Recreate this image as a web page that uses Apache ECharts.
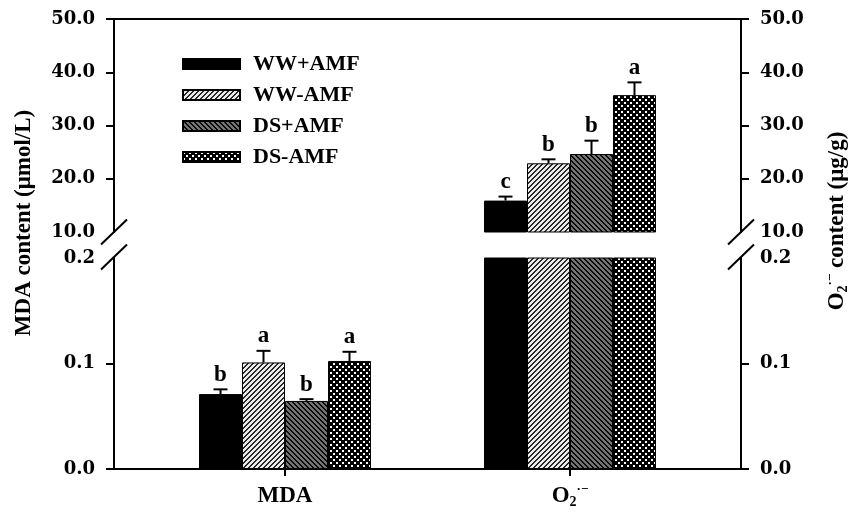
<!DOCTYPE html>
<html><head><meta charset="utf-8">
<script src="https://cdn.jsdelivr.net/npm/echarts@6/dist/echarts.min.js"></script>
<style>html,body{margin:0;padding:0;background:#fff}#c{width:850px;height:512px}</style>
</head><body><div id="c"></div>
<script>
// ---- data ----
const categories = ['MDA', 'O2'];
const categoryLabels = ['{m|MDA}', '{m|O}{s|2}{p|·−}'];
const treatments = ['WW+AMF', 'WW-AMF', 'DS+AMF', 'DS-AMF'];
const mdaValues = [0.071, 0.101, 0.0645, 0.1024];
const mdaErrors = [0.0045, 0.011, 0.0017, 0.0087];
const mdaLetters = ['b', 'a', 'b', 'a'];
const o2Values = [15.9, 22.9, 24.65, 35.7];
const o2Errors = [0.75, 0.75, 2.5, 2.4];
const o2Letters = ['c', 'b', 'b', 'a'];
const upperTickLabels = [10, 20, 30, 40, 50];
const lowerTickLabels = [0, 0.1, 0.2];

// ---- layout constants ----
const GL = 114, GW = 627;
const UT = 19, UH = 213;
const LT = 258, LH = 211;
const BAR_W = 43;
const catPos = categories.map((c, i) => i + 1);

// ---- patterns ----
function tile(n, fn) {
  const cv = document.createElement('canvas');
  cv.width = n; cv.height = n;
  const ctx = cv.getContext('2d');
  const img = ctx.createImageData(n, n);
  for (let y = 0; y < n; y++) for (let x = 0; x < n; x++) {
    const v = fn(x, y);
    const i = (y * n + x) * 4;
    img.data[i] = v; img.data[i + 1] = v; img.data[i + 2] = v; img.data[i + 3] = 255;
  }
  ctx.putImageData(img, 0, 0);
  return { image: cv, repeat: 'repeat' };
}
const patterns = [
  '#000',
  tile(5, (x, y) => ((x + y) % 5) < 2 ? 40 : 235),
  tile(5, (x, y) => (((x - y) % 5) + 5) % 5 < 2 ? 10 : 115),
  tile(6, (x, y) => ((x % 6 < 2 && y % 6 < 2) || ((x + 3) % 6 < 2 && (y + 3) % 6 < 2)) ? 255 : 0)
];

const font = '"Liberation Serif", "Times New Roman", serif';
const numFont = '"DejaVu Serif", serif';
const black = '#000';

function yAxis(grid, pos, min, max, interval, ticks) {
  return {
    type: 'value', gridIndex: grid, position: pos, min: min, max: max, interval: interval,
    axisLine: { show: true, lineStyle: { color: black, width: 2 } },
    axisTick: { show: true, inside: false, length: 8, customValues: ticks, lineStyle: { color: black, width: 2 } },
    axisLabel: { margin: 19, color: black, fontFamily: numFont, fontWeight: 'bold', fontSize: 18,
      formatter: v => v.toFixed(1) },
    splitLine: { show: false }
  };
}

const series = [];
const valuesByCat = [mdaValues, o2Values];
const errorsByCat = [mdaErrors, o2Errors];
const lettersByCat = [mdaLetters, o2Letters];
for (let g = 0; g < 2; g++) {
  treatments.forEach((t, k) => {
    series.push({
      type: 'bar', name: t, xAxisIndex: g, yAxisIndex: g,
      data: catPos.map((x, c) => [x, valuesByCat[c][k]]),
      barWidth: BAR_W, barGap: '0%', clip: true,
      itemStyle: { color: patterns[k], borderColor: black, borderWidth: 1 },
      emphasis: { disabled: true }, z: 2
    });
  });
}
const errInfo = [];
treatments.forEach((t, k) => {
  catPos.forEach((x, c) => {
    errInfo.push({ x: x, v: valuesByCat[c][k], e: errorsByCat[c][k], k: k, letter: lettersByCat[c][k] });
  });
});
for (let g = 0; g < 2; g++) {
  series.push({
    type: 'custom', name: 'err' + g, xAxisIndex: g, yAxisIndex: g, clip: true, z: 5,
    data: errInfo.map(d => [d.x, d.v + d.e]),
    renderItem: function (params, api) {
      const info = errInfo[params.dataIndex];
      const cs = params.coordSys;
      const base = api.coord([info.x, info.v]);
      const top = api.coord([info.x, info.v + info.e]);
      if (base[1] < cs.y - 0.5 || base[1] > cs.y + cs.height + 0.5) return null;
      const x = base[0] + (info.k - 1.5) * BAR_W;
      return {
        type: 'group', children: [
          { type: 'line', shape: { x1: x, y1: base[1], x2: x, y2: top[1] }, style: { stroke: black, lineWidth: 2 } },
          { type: 'line', shape: { x1: x - 7, y1: top[1], x2: x + 7, y2: top[1] }, style: { stroke: black, lineWidth: 2 } },
          { type: 'text', x: x, y: top[1] - 3, style: { text: info.letter, font: 'bold 23px ' + font, fill: black, align: 'center', verticalAlign: 'bottom' } }
        ]
      };
    }
  });
}

const slashes = [];
[GL, GL + GW].forEach(X => {
  [UT + UH, LT - 1].forEach(Y => {
    slashes.push({ type: 'line', z: 100, shape: { x1: X - 13, y1: Y + 12.5, x2: X + 13, y2: Y - 12.5 }, style: { stroke: black, lineWidth: 2 } });
  });
});

const option = {
  animation: false,
  backgroundColor: '#fff',
  grid: [
    { left: GL, width: GW, top: UT, height: UH },
    { left: GL, width: GW, top: LT, height: LH }
  ],
  xAxis: [
    { type: 'value', gridIndex: 0, position: 'top', min: 0.4, max: 2.6,
      axisLine: { show: true, onZero: false, lineStyle: { color: black, width: 2 } },
      axisTick: { show: false }, axisLabel: { show: false }, splitLine: { show: false } },
    { type: 'value', gridIndex: 1, position: 'bottom', min: 0.4, max: 2.6,
      axisLine: { show: true, onZero: false, lineStyle: { color: black, width: 2 } },
      axisTick: { show: true, length: 7, customValues: catPos, lineStyle: { color: black, width: 2 } },
      axisLabel: { customValues: catPos, margin: 14, formatter: v => categoryLabels[Math.round(v) - 1],
        rich: {
          m: { fontFamily: font, fontWeight: 'bold', fontSize: 23, color: black, lineHeight: 26 },
          s: { fontFamily: font, fontWeight: 'bold', fontSize: 14, color: black, lineHeight: 14, verticalAlign: 'bottom' },
          p: { fontFamily: font, fontWeight: 'bold', fontSize: 13, color: black, lineHeight: 13, verticalAlign: 'top' }
        } },
      splitLine: { show: false } }
  ],
  yAxis: [
    yAxis(0, 'left', 10, 50, 10, [20, 30, 40, 50]),
    yAxis(1, 'left', 0, 0.2, 0.1, [0, 0.1]),
    yAxis(0, 'right', 10, 50, 10, [20, 30, 40, 50]),
    yAxis(1, 'right', 0, 0.2, 0.1, [0, 0.1])
  ],
  legend: {
    orient: 'vertical', left: 177, top: 48, itemWidth: 57, itemHeight: 10, itemGap: 9,
    data: treatments, icon: 'rect', selectedMode: false,
    textStyle: { fontFamily: font, fontWeight: 'bold', fontSize: 22, lineHeight: 22, color: black, padding: [0, 0, 0, 8] }
  },
  graphic: slashes.concat([
    { type: 'text', x: 24, y: 223, rotation: Math.PI / 2, z: 100,
      style: { text: 'MDA content (μmol/L)', font: 'bold 23px ' + font, fill: black, align: 'center', verticalAlign: 'middle' } },
    { type: 'text', x: 837, y: 221, rotation: Math.PI / 2, z: 100,
      style: { text: '{m|O}{s|2}{p|·−}{m| content (μg/g)}', fill: black, align: 'center', verticalAlign: 'middle',
        rich: {
          m: { fontFamily: font, fontWeight: 'bold', fontSize: 23, fill: black, lineHeight: 26 },
          s: { fontFamily: font, fontWeight: 'bold', fontSize: 14, fill: black, lineHeight: 14, verticalAlign: 'bottom' },
          p: { fontFamily: font, fontWeight: 'bold', fontSize: 13, fill: black, lineHeight: 13, verticalAlign: 'top' }
        } } }
  ]),
  series: series
};
const chart = echarts.init(document.getElementById('c'), null, { renderer: 'canvas' });
chart.setOption(option);
</script>
</body></html>
